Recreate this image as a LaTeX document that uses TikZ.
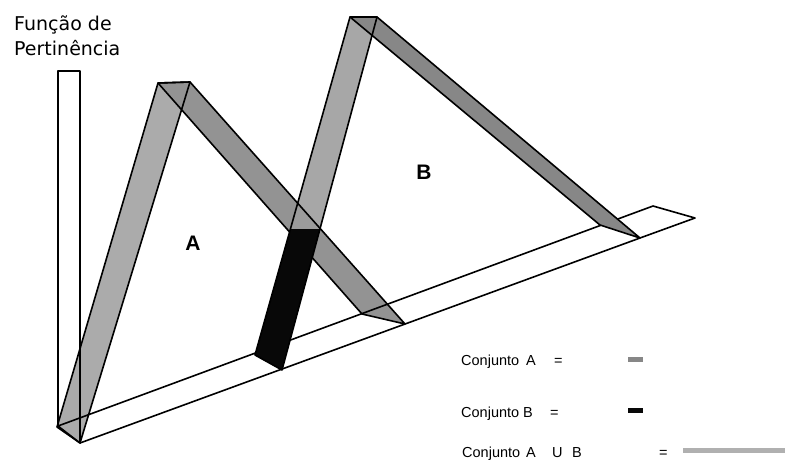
\documentclass[tikz,border=0pt]{standalone}
\usepackage{fontspec}
\setmainfont{Liberation Sans}
\newfontfamily\fonteEixo{DejaVu Sans}
\definecolor{cinzaA}{HTML}{ABABAB}
\definecolor{cinzaAesc}{HTML}{939393}
\definecolor{cinzaB}{HTML}{A7A7A7}
\definecolor{cinzaBesc}{HTML}{878787}
\definecolor{cinzaMisto}{HTML}{9C9C9C}
\definecolor{pretoB}{HTML}{080808}
\definecolor{cinzaUniao}{HTML}{B0B0B0}
\tikzset{
  contorno/.style={draw=black,line width=1.6pt,line join=round},
  legenda/.style={font=\fontsize{14.5}{17}\selectfont,anchor=base west,inner sep=0pt},
  letraConj/.style={font=\bfseries\fontsize{21}{24}\selectfont,inner sep=0pt},
}
\newcommand{\fitaCheia}[5]{%
  \fill[#1] (#2) -- (#3) -- (#4) -- (#5) -- cycle;}
\newcommand{\fitaBorda}[4]{%
  \draw[contorno] (#1) -- (#2) -- (#3) -- (#4) -- cycle;}

\begin{document}
\begin{tikzpicture}[x=1pt,y=-1pt]
  \useasboundingbox (0,0) rectangle (785,461);
  % cantos do conjunto A
  \coordinate (A1) at (57,427);
  \coordinate (A2) at (158,83);
  \coordinate (A3) at (190,82);
  \coordinate (A4) at (80,443);
  \coordinate (A5) at (405,324);
  \coordinate (A6) at (362,314);
  % cantos do conjunto B
  \coordinate (B1) at (255,355);
  \coordinate (B2) at (350,17);
  \coordinate (B3) at (377,17);
  \coordinate (B4) at (282,370);
  \coordinate (B5) at (290.4,229);
  \coordinate (B6) at (320,229);
  \coordinate (B7) at (640,238);
  \coordinate (B8) at (600,225);
  % eixo e base
  \coordinate (E0) at (58,426);
  \coordinate (E3) at (695,218);
  \coordinate (E4) at (653,206);
  \coordinate (topoEixo) at (58,71);

  % conjunto A
  \fitaCheia{cinzaA}{A1}{A2}{A3}{A4}
  \fitaCheia{cinzaAesc}{A2}{A3}{A5}{A6}
  \fitaBorda{A1}{A2}{A3}{A4}
  \fitaBorda{A2}{A3}{A5}{A6}

  % eixo vertical e base
  \draw[contorno,line width=1.3pt] (E0) -- (topoEixo) -- (topoEixo -| A4) -- (A4);
  \draw[contorno] (E0) -- (A4) -- (B7) -- (E3) -- (E4) -- cycle;

  % conjunto B
  \fitaCheia{cinzaB}{B1}{B2}{B3}{B4}
  \begin{scope}
    \clip (B1) -- (B2) -- (B3) -- (B4) -- cycle;
    \fitaCheia{cinzaMisto}{A2}{A3}{A5}{A6}
    \fitaBorda{A2}{A3}{A5}{A6}
  \end{scope}
  \fitaCheia{pretoB}{B1}{B5}{B6}{B4}
  \fitaCheia{cinzaBesc}{B2}{B3}{B7}{B8}
  \fitaBorda{B1}{B2}{B3}{B4}
  \fitaBorda{B2}{B3}{B7}{B8}

  % rotulos
  \node[font=\fonteEixo\fontsize{19}{25}\selectfont,align=left,anchor=north west,inner sep=0pt]
    (rotuloEixo) at (14,15.5) {Função de\\Pertinência};
  \node[letraConj] (letraA) at (193,243) {A};
  \node[letraConj] (letraB) at (424,172) {B};

  % legenda
  \node[legenda] (conjA) at (461,365) {Conjunto};
  \node[legenda] (simbA) at (526,365) {A};
  \node[legenda] (igualA) at (554,365) {=};
  \fill[cinzaBesc] (628,357) rectangle (643,362);
  \node[legenda] (conjB) at (461,417) {Conjunto};
  \node[legenda] (simbB) at (523,417) {B};
  \node[legenda] (igualB) at (550,417) {=};
  \fill[pretoB] (628,408) rectangle (643,413);
  \node[legenda] (conjU) at (462,457) {Conjunto};
  \node[legenda] (simbUA) at (526,457) {A};
  \node[legenda] (simbU) at (552,457) {U};
  \node[legenda] (simbUB) at (572,457) {B};
  \node[legenda] (igualU) at (659,457) {=};
  \fill[cinzaUniao] (683,448) rectangle (785,453);
\end{tikzpicture}
\end{document}
